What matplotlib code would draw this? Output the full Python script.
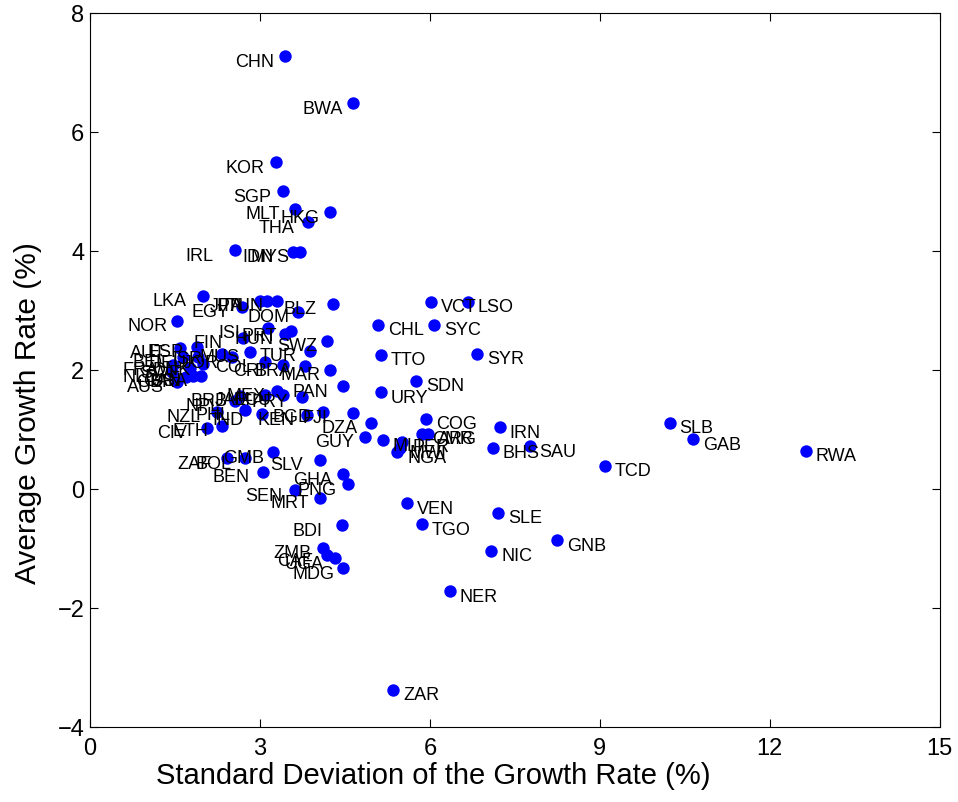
import matplotlib
matplotlib.use("Agg")
import matplotlib.pyplot as plt

plt.rcParams['font.family'] = ['Liberation Sans', 'DejaVu Sans']

# ---------------------------------------------------------
# DATA
# ---------------------------------------------------------
countries = [
    "CHN", "BWA", "KOR", "SGP", "MLT", "HKG", "THA", "IRL", "IDN", "MYS",
    "LKA", "EGY", "JPN", "ITA", "TUN", "BLZ", "DOM", "NOR", "ISL", "HUN",
    "PRT", "SWZ", "FIN", "TUR", "CRI", "BRA", "MAR", "PAN",
    "AUT", "ESP", "BEL", "DEU", "FRA", "NLD", "SWE", "DNK", "AUS", "GBR",
    "CAN", "USA", "ISR", "MUS", "COL", "JOR",
    "MEX", "NPL", "BRB", "JAM", "ECU", "PRY", "PHL", "IND", "KEN", "BGD",
    "FJI", "NZL", "CIV", "ETH",
    "ZAF", "BOL", "GMB", "SLV", "BEN", "SEN", "MRT", "GHA", "PNG", "BDI",
    "ZMB", "CAF", "UGA", "MDG",
    "DZA", "GUY", "MLI", "PER", "NGA", "MWI", "CMR", "ARG", "COG",
    "IRN", "BHS", "SAU", "SLB", "GAB", "RWA", "TCD", "VEN", "TGO", "SLE",
    "GNB", "NIC", "NER", "ZAR", "CHL", "SYC", "TTO", "SYR", "SDN", "URY",
    "VCT", "LSO",
]
std_growth = [
    3.44, 4.64, 3.28, 3.41, 3.62, 4.24, 3.85, 2.56, 3.58, 3.71,
    1.99, 2.68, 3.00, 3.12, 3.30, 4.29, 3.67, 1.54, 3.14, 3.44,
    3.55, 4.18, 2.70, 3.88, 3.41, 3.79, 4.24, 4.46,
    1.59, 1.89, 1.64, 1.91, 1.46, 1.45, 1.76, 1.99, 1.54, 1.69,
    1.82, 1.96, 2.33, 2.82, 3.09, 2.51,
    3.30, 2.56, 2.65, 3.09, 3.41, 3.74, 2.74, 3.04, 3.83, 4.11,
    4.64, 2.24, 2.06, 2.33,
    2.42, 2.74, 3.23, 4.06, 3.05, 3.62, 4.06, 4.46, 4.55, 4.45,
    4.11, 4.18, 4.32, 4.46,
    4.96, 4.85, 5.17, 5.51, 5.42, 5.47, 5.86, 5.96, 5.93,
    7.23, 7.11, 7.76, 10.23, 10.64, 12.63, 9.09, 5.59, 5.86, 7.20,
    8.24, 7.08, 6.35, 5.35, 5.08, 6.07, 5.13, 6.83, 5.75, 5.13,
    6.02, 6.67,
]
avg_growth = [
    7.27, 6.48, 5.49, 5.00, 4.71, 4.65, 4.48, 4.01, 3.99, 3.99,
    3.25, 3.06, 3.16, 3.16, 3.16, 3.11, 2.98, 2.83, 2.71, 2.61,
    2.66, 2.49, 2.54, 2.32, 2.08, 2.07, 2.00, 1.73,
    2.37, 2.39, 2.22, 2.21, 2.09, 1.97, 2.04, 2.10, 1.80, 1.89,
    1.90, 1.90, 2.27, 2.31, 2.14, 2.21,
    1.65, 1.48, 1.57, 1.58, 1.58, 1.55, 1.33, 1.26, 1.25, 1.30,
    1.28, 1.30, 1.03, 1.06,
    0.52, 0.52, 0.62, 0.49, 0.29, -0.02, -0.15, 0.25, 0.08, -0.61,
    -0.99, -1.11, -1.16, -1.33,
    1.11, 0.88, 0.82, 0.79, 0.62, 0.69, 0.93, 0.93, 1.18,
    1.04, 0.69, 0.72, 1.11, 0.84, 0.64, 0.39, -0.24, -0.59, -0.40,
    -0.86, -1.04, -1.72, -3.37, 2.76, 2.76, 2.26, 2.27, 1.82, 1.63,
    3.15, 3.15,
]

xticks = [0, 3, 6, 9, 12, 15]
yticks = [-4, -2, 0, 2, 4, 6, 8]

# ---------------------------------------------------------
# PLOT
# ---------------------------------------------------------
fig = plt.figure(figsize=(9.58, 8.03), dpi=100)
ax = fig.add_axes([0.094, 0.0934, 0.887, 0.8892])

ax.scatter(std_growth, avg_growth, s=80, color="#0000ff", zorder=2, linewidths=0)

# labels: left of the point for low-volatility countries, right otherwise
for name, x, y in zip(countries, std_growth, avg_growth):
    dx = 7.2 if x > 5 else -36
    ax.annotate(name, (x, y), xytext=(dx, -3.6), textcoords="offset points",
                ha="left", va="center", fontsize=13, color="black", zorder=3)

ax.set_xlim(0, 15)
ax.set_ylim(-4, 8)
ax.set_xticks(xticks)
ax.set_yticks(yticks)
ax.tick_params(direction="in", length=6, labelsize=17, top=True, right=True)
ax.tick_params(axis="x", pad=7)
ax.tick_params(axis="y", pad=4)

ax.set_xlabel("Standard Deviation of the Growth Rate (%)", fontsize=21, va="center")
ax.xaxis.set_label_coords(0.4035, -0.067)
ax.set_ylabel("Average Growth Rate (%)", fontsize=21.5, va="center")
ax.yaxis.set_label_coords(-0.073, 0.441)
for sp in ax.spines.values():
    sp.set_linewidth(0.8)

fig.savefig("out.png", dpi=100)
